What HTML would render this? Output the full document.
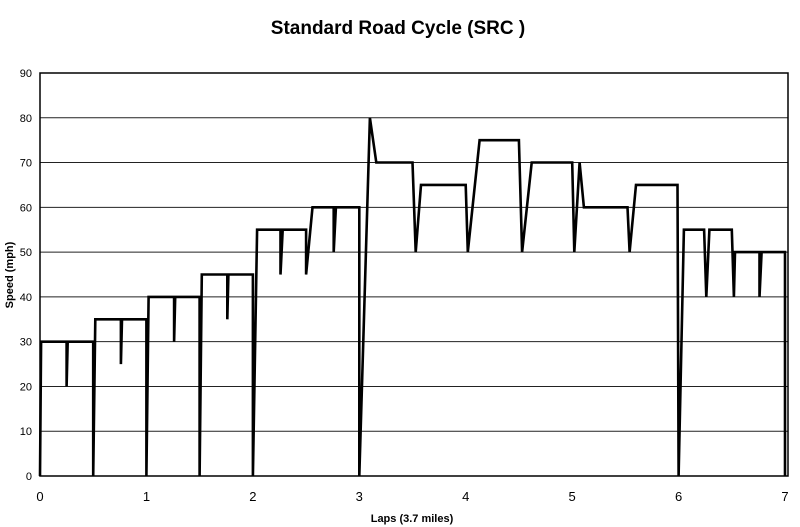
<!DOCTYPE html>
<html><head><meta charset="utf-8"><style>
body{margin:0;background:#fff;}
svg{display:block;font-family:"Liberation Sans",sans-serif;}
</style></head><body>
<svg width="800" height="527" viewBox="0 0 800 527">
<text x="398" y="34" text-anchor="middle" font-size="19" font-weight="bold">Standard Road Cycle (SRC )</text>
<g id="grid"></g>
<rect x="40" y="73" width="748" height="403" fill="none" stroke="#000" stroke-width="1.5"/>
<g id="yt"></g>
<g id="xt"></g>
<path id="line" fill="none" stroke="#000" stroke-width="2.6" stroke-linejoin="miter"/>
<text x="0" y="0" transform="translate(13,275) rotate(-90)" text-anchor="middle" font-size="11" font-weight="bold">Speed (mph)</text>
<text x="412" y="522" text-anchor="middle" font-size="11" font-weight="bold">Laps (3.7 miles)</text>
</svg>
<script>
const laps=[0,0.01,0.25,0.25,0.26,0.5,0.5,0.52,0.76,0.76,0.77,1.0,1.0,1.02,1.26,1.26,1.27,1.5,1.5,1.52,1.76,1.76,1.77,2.0,2.0,2.04,2.26,2.26,2.28,2.5,2.5,2.56,2.76,2.76,2.78,3.0,3.0,3.1,3.16,3.5,3.53,3.58,4.0,4.02,4.13,4.5,4.53,4.62,5.0,5.02,5.07,5.11,5.52,5.54,5.6,5.99,6.0,6.05,6.24,6.26,6.29,6.5,6.52,6.53,6.76,6.76,6.78,7.0,7.0];
const speeds=[0,30,30,20,30,30,0,35,35,25,35,35,0,40,40,30,40,40,0,45,45,35,45,45,0,55,55,45,55,55,45,60,60,50,60,60,0,80,70,70,50,65,65,50,75,75,50,70,70,50,70,60,60,50,65,65,0,55,55,40,55,55,40,50,50,40,50,50,0];
const yTicks=[0,10,20,30,40,50,60,70,80,90];
const xTicks=[0,1,2,3,4,5,6,7];
const X=v=>40+v*106.43, Y=v=>476-v*4.478;
const NS="http://www.w3.org/2000/svg";
const grid=document.getElementById('grid'),yt=document.getElementById('yt'),xt=document.getElementById('xt');
yTicks.forEach(t=>{
  const l=document.createElementNS(NS,'line');
  
  
  l.setAttribute('x1',40);l.setAttribute('x2',788);l.setAttribute('y1',Y(t));l.setAttribute('y2',Y(t));
  l.setAttribute('stroke','#222');l.setAttribute('stroke-width','1');
  grid.appendChild(l);
  const tx=document.createElementNS(NS,'text');
  
  
  tx.setAttribute('x',32);tx.setAttribute('y',Y(t)+4);tx.setAttribute('text-anchor','end');tx.setAttribute('font-size','11');
  tx.textContent=t;yt.appendChild(tx);
});
xTicks.forEach(t=>{
  const tx=document.createElementNS(NS,'text');
  
  
  tx.setAttribute('x',X(t));tx.setAttribute('y',501);tx.setAttribute('text-anchor','middle');tx.setAttribute('font-size','13');
  tx.textContent=t;xt.appendChild(tx);
});
document.getElementById('line').setAttribute('d',laps.map((v,i)=>(i?'L':'M')+X(v).toFixed(1)+' '+Y(speeds[i]).toFixed(1)).join(' '));
</script>
</body></html>
